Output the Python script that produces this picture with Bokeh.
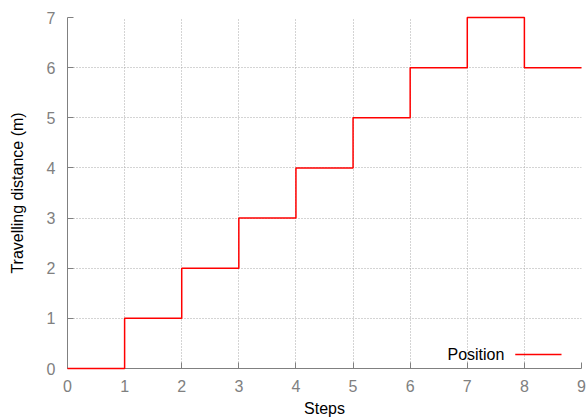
from bokeh.plotting import figure
from bokeh.models import Range1d, FixedTicker, Label, Arrow
from bokeh.embed import file_html
from bokeh.resources import INLINE

steps = [0, 1, 2, 3, 4, 5, 6, 7, 8, 9]
position = [0, 1, 2, 3, 4, 5, 6, 7, 6, 6]
x_ticks = [0, 1, 2, 3, 4, 5, 6, 7, 8, 9]
y_ticks = [0, 1, 2, 3, 4, 5, 6, 7]
series_name = "Position"
x_title = "Steps"
y_title = "Travelling distance (m)"

FONT = "Liberation Sans"
GRAY = "#808080"

p = figure(output_backend="svg", toolbar_location=None,
           x_range=Range1d(0, 9), y_range=Range1d(0, 7),
           frame_width=514, frame_height=351,
           min_border_left=67, min_border_top=17, min_border_right=6,
           min_border_bottom=10)
p.outline_line_color = None
p.background_fill_color = "white"
p.border_fill_color = "white"

p.step(steps, position, mode="after", line_color="#ff0000", line_width=1.5,
       level="overlay")

for ax, ticks in ((p.xaxis[0], x_ticks), (p.yaxis[0], y_ticks)):
    ax.ticker = FixedTicker(ticks=ticks)
    ax.axis_line_color = GRAY
    ax.major_tick_line_color = GRAY
    ax.major_tick_in = 6
    ax.major_tick_out = 0
    ax.minor_tick_line_color = None
    ax.major_label_text_font = FONT
    ax.major_label_text_font_size = "16px"
    ax.major_label_text_color = GRAY
    ax.axis_label_text_font = FONT
    ax.axis_label_text_font_size = "16px"
    ax.axis_label_text_font_style = "normal"
    ax.axis_label_text_color = "black"

p.xaxis.axis_label = x_title
p.yaxis.axis_label = y_title
p.xaxis.major_label_standoff = 11
p.xaxis.axis_label_standoff = 5
p.yaxis.major_label_standoff = 12
p.yaxis.axis_label_standoff = 18

for g in (p.xgrid[0], p.ygrid[0]):
    g.grid_line_color = "#a8a8a8"
    g.grid_line_dash = "1 2"
    g.grid_line_width = 1
p.xgrid.ticker = FixedTicker(ticks=x_ticks)
p.ygrid.ticker = FixedTicker(ticks=y_ticks)

# legend: label followed by line sample (gnuplot style)
p.add_layout(Label(x=7.65, y=0.28, text=series_name, text_align="right",
                   text_baseline="middle", text_font=FONT,
                   text_font_size="16px", text_color="black"))
p.add_layout(Arrow(end=None, x_start=7.84, y_start=0.28, x_end=8.65, y_end=0.28,
                   line_color="#ff0000", line_width=1.5))

open("out.html", "w").write(file_html(p, INLINE))
